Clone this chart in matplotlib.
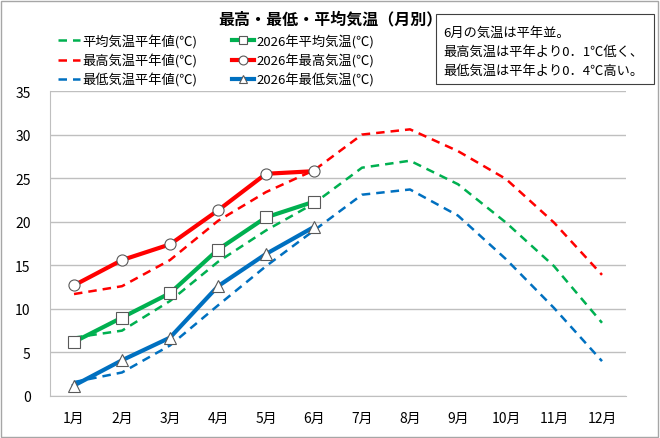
import matplotlib
matplotlib.use('Agg')
import matplotlib.pyplot as plt
from matplotlib.patches import Rectangle

plt.rcParams['font.family'] = ['Noto Sans CJK JP', 'DejaVu Sans']

# 月と気温データ (℃)
months = ['1月', '2月', '3月', '4月', '5月', '6月', '7月', '8月', '9月', '10月', '11月', '12月']
avg_normal = [6.7, 7.5, 10.9, 15.4, 19.0, 22.1, 26.2, 27.0, 24.3, 19.9, 14.9, 8.4]
max_normal = [11.7, 12.6, 15.6, 20.1, 23.4, 25.9, 30.0, 30.6, 28.1, 24.9, 19.9, 13.9]
min_normal = [1.6, 2.7, 5.8, 10.4, 14.9, 19.0, 23.1, 23.7, 20.7, 15.7, 10.1, 4.0]
avg_2026 = [6.2, 9.0, 11.8, 16.8, 20.5, 22.3]
max_2026 = [12.7, 15.6, 17.4, 21.3, 25.5, 25.8]
min_2026 = [1.2, 4.1, 6.7, 12.6, 16.3, 19.4]

green = '#00B050'
red = '#FF0000'
blue = '#0070C0'

fig = plt.figure(figsize=(6.6, 4.39), dpi=100)
ax = fig.add_axes([50/660, 1-397/439, 576/660, 305/439])

x = list(range(len(months)))
x6 = x[:len(avg_2026)]

dash = dict(linestyle=(0, (3.4, 2.4)), linewidth=1.8)
l1, = ax.plot(x, avg_normal, color=green, label='平均気温平年値(℃)', **dash)
l2, = ax.plot(x, max_normal, color=red, label='最高気温平年値(℃)', **dash)
l3, = ax.plot(x, min_normal, color=blue, label='最低気温平年値(℃)', **dash)

mk = dict(linewidth=3.0, markersize=8, markerfacecolor='white',
          markeredgecolor='#595959', markeredgewidth=0.8)
l4, = ax.plot(x6, avg_2026, color=green, marker='s', label='2026年平均気温(℃)', **mk)
l5, = ax.plot(x6, max_2026, color=red, marker='o', label='2026年最高気温(℃)', **mk)
l6, = ax.plot(x6, min_2026, color=blue, marker='^', label='2026年最低気温(℃)', **mk)

ax.set_xlim(-0.5, 11.5)
ax.set_ylim(0, 35)
ax.set_yticks(range(0, 36, 5))
ax.set_xticks(x)
ax.set_xticklabels(months)
ax.tick_params(length=0, labelsize=10, colors='black')
ax.tick_params(axis='x', pad=11)
ax.tick_params(axis='y', pad=14)
ax.grid(axis='y', color='#BFBFBF', linewidth=1)
ax.set_axisbelow(True)
for s in ['top', 'right']:
    ax.spines[s].set_visible(False)
for s in ['left', 'bottom']:
    ax.spines[s].set_color('#BFBFBF')

fig.text(330/660, 1-19/439, '最高・最低・平均気温（月別）', ha='center', va='center',
         fontsize=11.5, fontweight='bold')

fig.legend(handles=[l1, l2, l3, l4, l5, l6], ncol=2, loc='upper left',
           bbox_to_anchor=(58/660, 1-35/439), frameon=False, fontsize=9.5,
           handlelength=1.7, handletextpad=0.15, columnspacing=2.6,
           labelspacing=0.4, borderaxespad=0, borderpad=0, markerscale=0.8)

# 注記ボックス
fig.patches.append(Rectangle((436/660, 1-85/439), 218/660, 70/439,
                             transform=fig.transFigure, facecolor='white',
                             edgecolor='#404040', linewidth=0.8))
notes = ['6月の気温は平年並。', '最高気温は平年より0．1℃低く、', '最低気温は平年より0．4℃高い。']
for i, t in enumerate(notes):
    fig.text(443/660, 1-(33 + 19*i)/439, t, ha='left', va='center', fontsize=9.5)

# 外枠
fig.patches.append(Rectangle((1/660, 1/439), 657/660, 436/439,
                             transform=fig.transFigure, fill=False,
                             edgecolor='#A6A6A6', linewidth=1))

fig.savefig('out.png', dpi=100)
